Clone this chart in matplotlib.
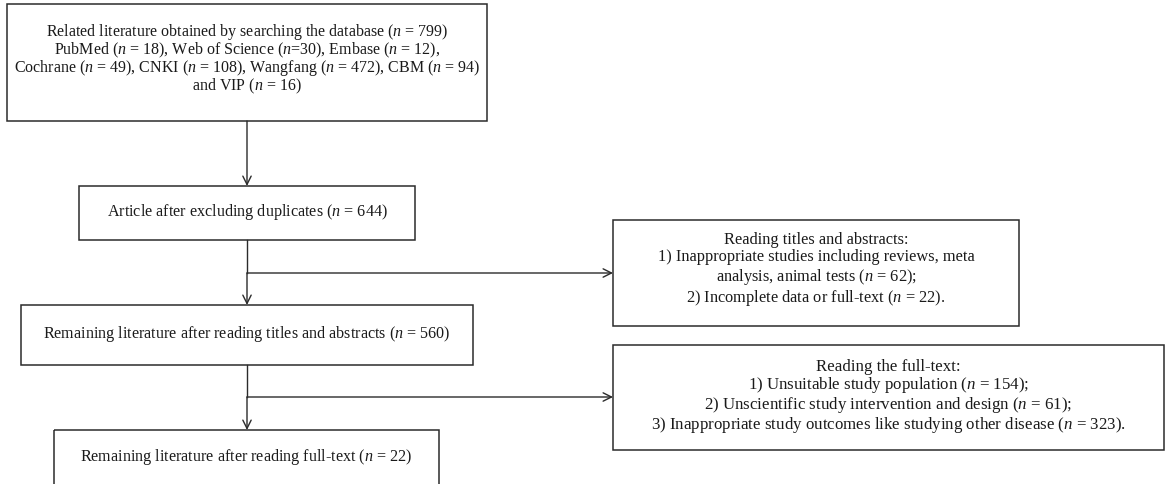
import matplotlib.pyplot as plt
from matplotlib.patches import Rectangle

plt.rcParams['font.family'] = ['Liberation Serif', 'DejaVu Serif']
plt.rcParams['mathtext.fontset'] = 'custom'
plt.rcParams['mathtext.rm'] = 'Liberation Serif'
plt.rcParams['mathtext.it'] = 'Liberation Serif:italic'

# Data
total_found = 799
databases = ['PubMed', 'Web of Science', 'Embase', 'Cochrane', 'CNKI', 'Wangfang', 'CBM', 'VIP']
db_counts = [18, 30, 12, 49, 108, 472, 94, 16]
after_duplicates = 644
after_abstracts = 560
final_count = 22
abstract_excl_reasons = ['Inappropriate studies including reviews, meta\nanalysis, animal tests',
                         'Incomplete data or full-text']
abstract_excl_counts = [62, 22]
fulltext_excl_reasons = ['Unsuitable study population',
                         'Unscientific study intervention and design',
                         'Inappropriate study outcomes like studying other disease']
fulltext_excl_counts = [154, 61, 323]


def nn(v):
    return '($n$ = %d)' % v


db = ['%s %s' % (d, nn(c)) for d, c in zip(databases, db_counts)]
db[1] = 'Web of Science ($n$=%d)' % db_counts[1]
text1 = ('Related literature obtained by searching the database %s\n' % nn(total_found)
         + ', '.join(db[0:3]) + ',\n' + ', '.join(db[3:7]) + '\nand ' + db[7])
text2 = 'Article after excluding duplicates %s' % nn(after_duplicates)
text3 = 'Remaining literature after reading titles and abstracts %s' % nn(after_abstracts)
text4 = 'Remaining literature after reading full-text %s' % nn(final_count)
text5 = 'Reading titles and abstracts:\n' + '\n'.join(
    '%d) %s %s%s' % (i + 1, r, nn(c), ';' if i < len(abstract_excl_counts) - 1 else '.')
    for i, (r, c) in enumerate(zip(abstract_excl_reasons, abstract_excl_counts)))
text6 = 'Reading the full-text:\n' + '\n'.join(
    '%d) %s %s%s' % (i + 1, r, nn(c), ';' if i < len(fulltext_excl_counts) - 1 else '.')
    for i, (r, c) in enumerate(zip(fulltext_excl_reasons, fulltext_excl_counts)))

fig = plt.figure(figsize=(11.66, 4.85), dpi=100)
ax = fig.add_axes([0, 0, 1, 1])
ax.set_xlim(0, 1166)
ax.set_ylim(485, 0)
ax.axis('off')

line_col = '#2b2b2b'


def box(x0, y0, x1, y1, txt, fs, ls, ty=None):
    ax.add_patch(Rectangle((x0, y0), x1 - x0, y1 - y0, fill=False, ec=line_col, lw=1.1,
                           clip_on=False))
    if ty is None:
        ty = (y0 + y1) / 2
    ax.text((x0 + x1) / 2, ty, txt, ha='center', va='center', fontsize=fs,
            color='#1a1a1a', linespacing=ls)


def arrow(x0, y0, x1, y1):
    ax.annotate('', xy=(x1, y1), xytext=(x0, y0),
                arrowprops=dict(arrowstyle='->,head_length=0.6,head_width=0.3',
                                color=line_col, lw=1.0, shrinkA=0, shrinkB=0))


cx = 247
box(7, 5, 487, 122, text1, 11.5, 0.88, ty=59)
box(79, 187, 415, 241, text2, 11.6, 1.0, ty=212)
box(21, 306, 473, 366, text3, 11.6, 1.0, ty=334)
box(54, 431, 439, 520, text4, 11.6, 1.0, ty=457)
box(613, 221, 1019, 327, text5, 11.8, 1.1, ty=270)
box(613, 346, 1164, 451, text6, 12.2, 1.0, ty=397)

arrow(cx, 122, cx, 187)
ax.plot([cx, cx], [241, 274], color=line_col, lw=1.0)
arrow(cx, 274, cx, 306)
arrow(cx, 274, 613, 274)
ax.plot([cx, cx], [366, 398], color=line_col, lw=1.0)
arrow(cx, 398, cx, 431)
arrow(cx, 398, 613, 398)

fig.savefig('out.png', dpi=100)
